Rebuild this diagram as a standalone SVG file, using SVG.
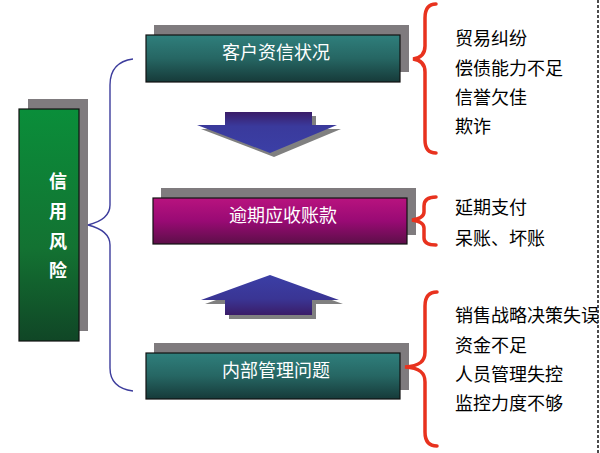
<svg xmlns="http://www.w3.org/2000/svg" width="600" height="453" viewBox="0 0 600 453">
<defs>
<linearGradient id="gTeal" x1="0" y1="0" x2="0" y2="1"><stop offset="0" stop-color="#2f7f7c"/><stop offset="0.5" stop-color="#266663"/><stop offset="1" stop-color="#163a39"/></linearGradient>
<linearGradient id="gMag" x1="0" y1="0" x2="0" y2="1"><stop offset="0" stop-color="#b8137f"/><stop offset="0.5" stop-color="#990a74"/><stop offset="1" stop-color="#5c0f48"/></linearGradient>
<linearGradient id="gGreen" x1="0" y1="0" x2="0" y2="1"><stop offset="0" stop-color="#0a8e3a"/><stop offset="0.6" stop-color="#137232"/><stop offset="1" stop-color="#104626"/></linearGradient>
<linearGradient id="gDown" x1="0" y1="0" x2="0" y2="1"><stop offset="0" stop-color="#3a1c68"/><stop offset="0.35" stop-color="#3a3a9c"/><stop offset="1" stop-color="#3b3fa6"/></linearGradient>
<linearGradient id="gUp" x1="0" y1="0" x2="0" y2="1"><stop offset="0" stop-color="#3b3fa6"/><stop offset="0.6" stop-color="#3a3594"/><stop offset="1" stop-color="#3a1c68"/></linearGradient>
</defs>
<style>
.sh{fill:#7f7b7e}
.box{stroke:#111;stroke-width:1.2}
.bt{font-family:"Liberation Sans","Noto Sans CJK SC",sans-serif;font-size:18px;fill:#fff;text-anchor:middle}
.it{font-family:"Liberation Sans","Noto Sans CJK SC",sans-serif;font-size:18px;fill:#000}
.vt{font-family:"Liberation Sans","Noto Sans CJK SC",sans-serif;font-size:18px;fill:#fff;font-weight:bold;text-anchor:middle}
.brace{fill:none;stroke:#e8321e;stroke-width:3.5;stroke-linecap:round}
.blue{fill:none;stroke:#3c3c9c;stroke-width:1.4}
</style>
<line x1="598" y1="0" x2="598" y2="453" stroke="#111" stroke-width="1.5" stroke-dasharray="3,2"/>
<g id="risk">
<rect class="sh" x="28" y="99" width="60" height="232"/>
<rect class="box" x="19" y="109" width="60" height="232" fill="url(#gGreen)"/>
<text class="vt" x="58" y="188">信</text>
<text class="vt" x="58" y="218">用</text>
<text class="vt" x="58" y="248">风</text>
<text class="vt" x="58" y="277">险</text>
</g>
<g id="customer">
<rect class="sh" x="154" y="25" width="255" height="47"/>
<rect class="box" x="146" y="35" width="254" height="47" fill="url(#gTeal)"/>
<text class="bt" x="276" y="59">客户资信状况</text>
</g>
<g id="overdue">
<rect class="sh" x="161" y="188" width="255" height="47"/>
<rect class="box" x="153" y="198" width="254" height="46" fill="url(#gMag)"/>
<text class="bt" x="283" y="222">逾期应收账款</text>
</g>
<g id="internal">
<rect class="sh" x="154" y="343" width="255" height="47"/>
<rect class="box" x="146" y="353" width="254" height="46" fill="url(#gTeal)"/>
<text class="bt" x="276" y="377">内部管理问题</text>
</g>
<g id="connectors">
<polygon points="229,116 316,116 316,129 341,129 274,157 201,129 229,129" fill="#808080"/>
<polygon points="225,112 312,112 312,125 337,125 270,153 197,125 225,125" fill="url(#gDown)"/>
<polygon points="274,279 343,304 316,304 316,319 229,319 229,304 205,304" fill="#808080"/>
<polygon points="270,275 339,300 312,300 312,315 225,315 225,300 201,300" fill="url(#gUp)"/>
<path class="blue" d="M133,59 C118,61 110,70 110,85 L110,205 C110,216 100,222 88,225 C100,228 110,234 110,245 L110,368 C110,382 118,389 133,391"/>
<path class="brace" d="M436,4 C428,4 425,9 425,18 L425,46 C425,54 421,58 413,59 C421,60 425,64 425,72 L425,140 C425,148 428,153 436,153"/>
<path class="brace" d="M436,197 C428,197 424,200 424,206 L424,212 C424,217 419,219 412,220 C419,221 424,223 424,228 L424,238 C424,243 428,245 436,245"/>
<path class="brace" d="M437,292 C429,292 425,297 425,306 L425,352 C425,361 420,366 405,367 C420,368 425,373 425,382 L425,432 C425,441 429,446 437,446"/>
</g>
<g id="items">
<text class="it" x="455" y="45">贸易纠纷</text>
<text class="it" x="455" y="75">偿债能力不足</text>
<text class="it" x="455" y="104">信誉欠佳</text>
<text class="it" x="455" y="133">欺诈</text>
<text class="it" x="455" y="214">延期支付</text>
<text class="it" x="455" y="245">呆账、坏账</text>
<text class="it" x="455" y="322">销售战略决策失误</text>
<text class="it" x="455" y="352">资金不足</text>
<text class="it" x="455" y="381">人员管理失控</text>
<text class="it" x="455" y="410">监控力度不够</text>
</g>
</svg>
